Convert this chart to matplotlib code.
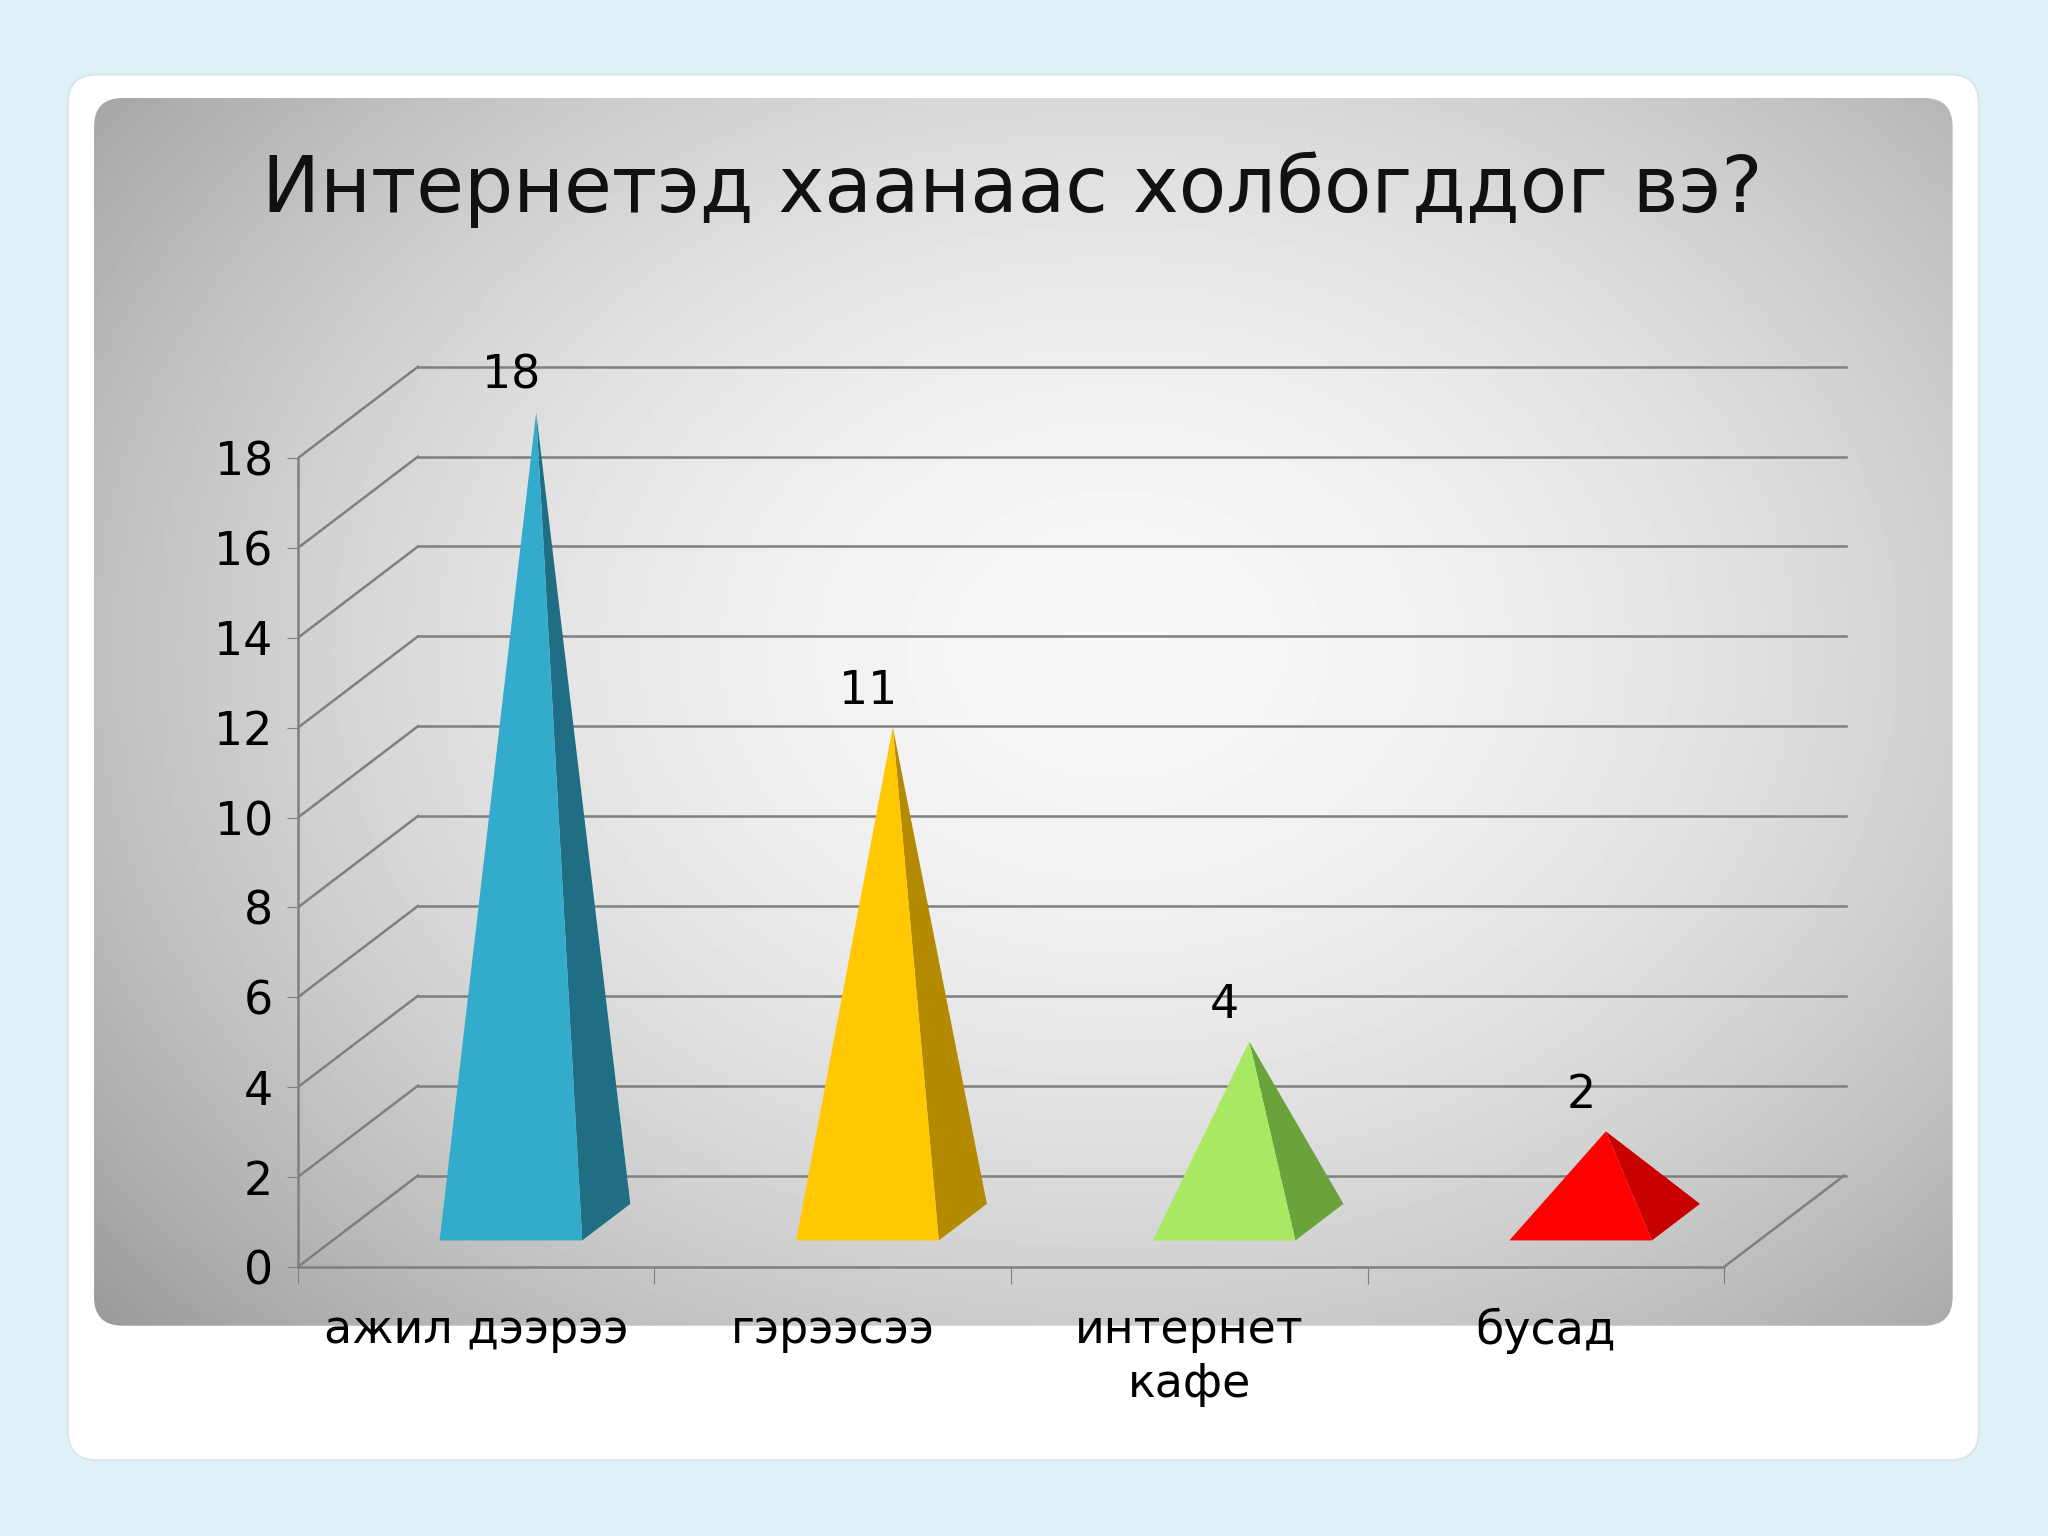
import numpy as np
import matplotlib.pyplot as plt
from matplotlib.patches import FancyBboxPatch, Polygon
from matplotlib.transforms import blended_transform_factory

categories = ["ажил дээрээ", "гэрээсээ", "интернет\nкафе", "бусад"]
values = [18, 11, 4, 2]
front_colors = ["#33ABCC", "#FFC800", "#A8E862", "#FF0000"]
side_colors = ["#1F6E84", "#B38A00", "#6CA23C", "#C80000"]
title = "Интернетэд хаанаас холбогддог вэ?"

W, H = 1568, 1176  # layout units of the reference
fig = plt.figure(figsize=(20.48, 15.36), dpi=100)
fig.patch.set_facecolor("#DFF1F8")

bg = fig.add_axes([0, 0, 1, 1])
bg.set_xlim(0, W)
bg.set_ylim(H, 0)
bg.axis("off")
card = FancyBboxPatch((52, 57), 1463, 1061, boxstyle="round,pad=0,rounding_size=22",
                      fc="white", ec="#D6E6EC", lw=1.5)
bg.add_patch(card)
panel = FancyBboxPatch((72, 75), 1423, 940, boxstyle="round,pad=0,rounding_size=22",
                       fc="none", ec="none")
bg.add_patch(panel)
yy, xx = np.mgrid[0:1:300j, 0:1:400j]
r = np.sqrt(((xx - 0.55) / 0.65) ** 2 + ((yy - 0.45) / 0.75) ** 2)
grad = np.clip(0.97 - 0.30 * r ** 1.8, 0.6, 0.97)
im = bg.imshow(grad, cmap="gray", vmin=0, vmax=1, extent=(72, 1495, 1015, 75),
               aspect="auto", zorder=1)
im.set_clip_path(panel)
bg.text(775, 145, title, fontsize=56, ha="center", va="center", color="#111111", zorder=3)

# chart axes
ymax = 20.3
top_px = 970 - ymax * 34.4
ax = fig.add_axes([228 / W, 1 - 970 / H, (1415 - 228) / W, (970 - top_px) / H])
ax.patch.set_alpha(0)
xmax = (1415 - 228) / 273
ax.set_xlim(0, xmax)
ax.set_ylim(0, ymax)
dx, dy = 92 / 273, 70 / 34.4
grid_c = "#7F7F7F"
for v in range(0, 20, 2):
    ax.plot([dx, 1413 / 273 - 228 / 273], [v + dy, v + dy], color=grid_c, lw=1.8, zorder=1)
    ax.plot([0, dx], [v, v + dy], color=grid_c, lw=1.8, zorder=1)
ax.plot([4, 4 + dx], [0, dy], color=grid_c, lw=1.8, zorder=1)
for s in ["top", "right"]:
    ax.spines[s].set_visible(False)
for s in ["left", "bottom"]:
    ax.spines[s].set_color(grid_c)
    ax.spines[s].set_linewidth(1.8)
ax.spines["left"].set_bounds(0, 18)
ax.spines["bottom"].set_bounds(0, 4)
ax.set_yticks(range(0, 20, 2))
ax.tick_params(axis="y", labelsize=33, length=8, color=grid_c, pad=10)
ax.set_xticks(range(5))
ax.set_xticklabels([])
ax.tick_params(axis="x", length=12, color=grid_c)

def pt(x, v, d):
    return (x + d * dx, v + d * dy)

for i, (v, fc, sc) in enumerate(zip(values, front_colors, side_colors)):
    c = i + 0.5
    hw = 0.2
    apex = pt(c, v, 0.5)
    f1, f2 = pt(c - hw, 0, 0.29), pt(c + hw, 0, 0.29)
    b2 = pt(c + hw, 0, 0.69)
    ax.add_patch(Polygon([f2, b2, apex], closed=True, fc=sc, ec="none", zorder=3))
    ax.add_patch(Polygon([f1, f2, apex], closed=True, fc=fc, ec="none", zorder=4))
    ax.text(apex[0] - 0.07, apex[1] + 0.3, str(v), fontsize=33, ha="center", va="bottom", zorder=5)

tr = blended_transform_factory(ax.transData, ax.transAxes)
for i, lab in enumerate(categories):
    ax.text(i + 0.5, -0.045, lab, transform=tr, fontsize=33, ha="center", va="top",
            linespacing=1.25)

fig.savefig("out.png", dpi=100, facecolor=fig.get_facecolor())
